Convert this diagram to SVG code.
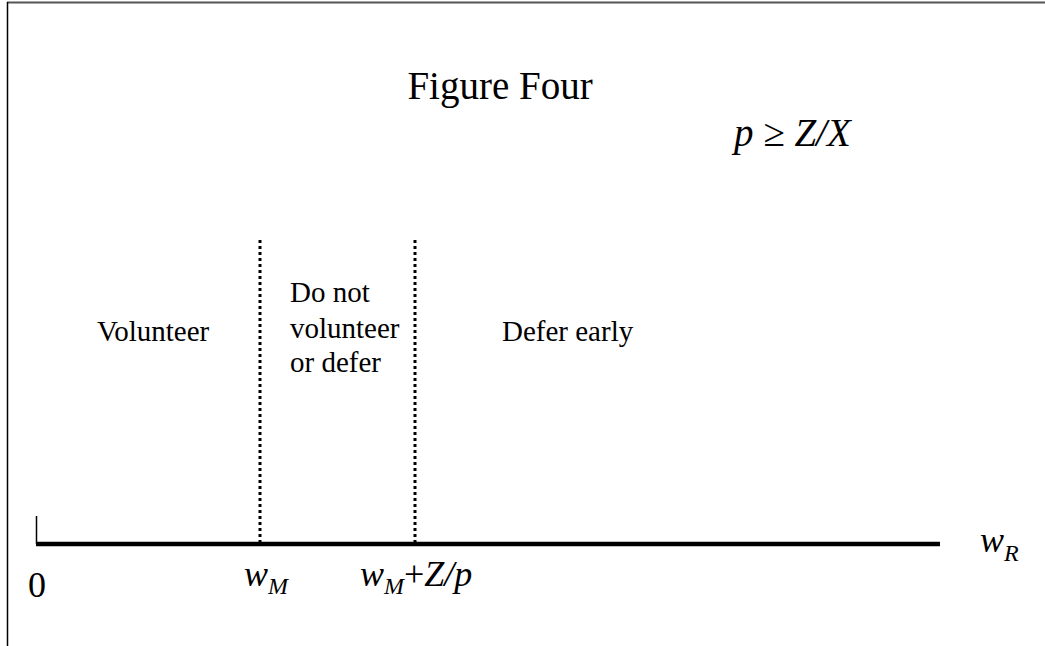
<svg xmlns="http://www.w3.org/2000/svg" width="1045" height="646" viewBox="0 0 1045 646">
<style>
.t{font-family:"Liberation Serif","Times New Roman",serif;fill:#000}
.lbl{font-size:29px}
.big{font-size:36px}
.hd{font-size:39px}
.it{font-style:italic}
.sub{font-size:24px;font-style:italic}
.dot{stroke:#000;stroke-width:3;stroke-dasharray:3 3;fill:none}
</style>
<rect width="1045" height="646" fill="#fff"/>
<g id="frame">
<line x1="7" y1="2.5" x2="1045" y2="2.5" stroke="#555" stroke-width="2"/>
<line x1="7.5" y1="2" x2="7.5" y2="646" stroke="#000" stroke-width="1.5"/>
</g>
<g id="title"><text class="t hd" x="500" y="99" text-anchor="middle">Figure Four</text></g>
<g id="condition"><text class="t hd it" x="734" y="146">p ≥ Z/X</text></g>
<g id="connectors">
<line x1="36" y1="544" x2="940" y2="544" stroke="#000" stroke-width="4.5"/>
<line x1="36.5" y1="516" x2="36.5" y2="544" stroke="#000" stroke-width="1.5"/>
<line class="dot" x1="260" y1="240" x2="260" y2="542"/>
<line class="dot" x1="415" y1="240" x2="415" y2="542"/>
</g>
<g id="region-volunteer"><text class="t lbl" x="97" y="341">Volunteer</text></g>
<g id="region-middle">
<text class="t lbl" x="290" y="302">Do not</text>
<text class="t lbl" x="290" y="338">volunteer</text>
<text class="t lbl" x="290" y="372">or defer</text>
</g>
<g id="region-defer"><text class="t lbl" x="502" y="341">Defer early</text></g>
<g id="label-0"><text class="t big" x="28" y="597">0</text></g>
<g id="label-wM"><text class="t big" x="244" y="586"><tspan class="it">w</tspan><tspan class="sub" dy="8">M</tspan></text></g>
<g id="label-wMZp"><text class="t big" x="360" y="586"><tspan class="it">w</tspan><tspan class="sub" dy="8">M</tspan><tspan dy="-8">+</tspan><tspan class="it">Z/p</tspan></text></g>
<g id="label-wR"><text class="t big" x="980" y="552"><tspan class="it">w</tspan><tspan class="sub" dy="9">R</tspan></text></g>
</svg>
